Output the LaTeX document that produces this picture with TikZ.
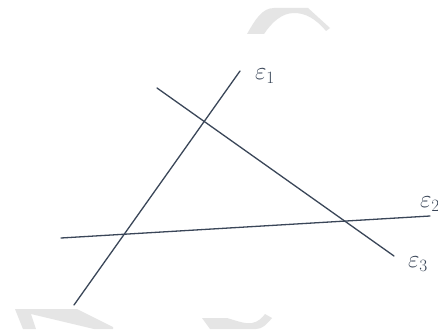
\documentclass[tikz,border=0pt]{standalone}
\definecolor{ink}{RGB}{58,70,88}
\definecolor{wm}{RGB}{229,229,229}
\tikzset{
  pen/.style={draw=ink, line width=1.3pt, line cap=round},
  lbl/.style={text=ink, inner sep=0pt, font=\fontsize{26}{28}\selectfont},
  wmark/.style={fill=wm, draw=none}
}
\begin{document}
\begin{tikzpicture}[x=1pt,y=-1pt]
\useasboundingbox[fill=white] (0,0) rectangle (438,329);
% faint background marks
\path[wmark] (247,34) .. controls (255,20) and (262,8) .. (274,8) -- (308,8) -- (330,28) -- (326,31)
   .. controls (315,18) and (305,13) .. (294,13) .. controls (282,13) and (272,22) .. (264,34) -- cycle;
\path[wmark] (15,309) -- (77,309) -- (113,327) -- (113,329) -- (94,329) -- (31,314) -- (36,329) -- (23,329) -- cycle;
\path[wmark] (202,318) -- (227,318) .. controls (240,322) and (246,324) .. (252,323) .. controls (258,322) and (262,318) .. (265,314)
   -- (272,318) .. controls (266,325) and (262,329) .. (256,329) -- (210,329) -- cycle;
% lines
\coordinate (a1) at (74,305);  \coordinate (b1) at (240,71);
\coordinate (a2) at (61,238);  \coordinate (b2) at (430,216);
\coordinate (a3) at (157,88);  \coordinate (b3) at (394,256);
\draw[pen] (a1) -- (b1);
\draw[pen] (a2) -- (b2);
\draw[pen] (a3) -- (b3);
\node[lbl] (e1) at (265,76) {$\varepsilon_1$};
\node[lbl] (e2) at (430,204) {$\varepsilon_2$};
\node[lbl] (e3) at (418,264) {$\varepsilon_3$};
\end{tikzpicture}
\end{document}
